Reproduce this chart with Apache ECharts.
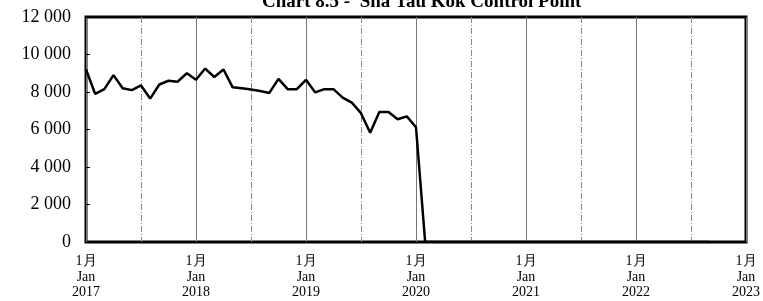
<!DOCTYPE html>
<html>
<head>
<meta charset="utf-8">
<script src="https://cdn.jsdelivr.net/npm/echarts@6/dist/echarts.min.js"></script>
<style>
  html, body { margin: 0; padding: 0; background: #fff; }
  #chart { width: 763px; height: 301px; }
</style>
</head>
<body>
<div id="chart"></div>
<script>
var years = [2017, 2018, 2019, 2020, 2021, 2022, 2023];

// monthly passenger counts, Jan 2017 .. Sep 2022
var passengers = [
  9200, 7900, 8150, 8900, 8200, 8100, 8350, 7650, 8400, 8600, 8550, 9000,
  8650, 9250, 8800, 9200, 8250, 8200, 8130, 8050, 7950, 8700, 8150, 8150,
  8650, 7980, 8150, 8150, 7700, 7430, 6870, 5830, 6930, 6930, 6550, 6700,
  6120, 0, 0, 0, 0, 0, 0, 0, 0, 0, 0, 0,
  0, 0, 0, 0, 0, 0, 0, 0, 0, 0, 0, 0,
  0, 0, 0, 0, 0, 0, 0, 0, 0
];

var yTicks = [0, 2000, 4000, 6000, 8000, 10000, 12000];

// one category per month, Jan 2017 .. Jan 2023
var months = [];
years.forEach(function (y, i) {
  var last = i === years.length - 1 ? 1 : 12;
  for (var m = 1; m <= last; m++) months.push(y + '-' + m);
});

var serif = "'Liberation Serif', 'Times New Roman', serif";

var chart = echarts.init(document.getElementById('chart'));

chart.setOption({
  animation: false,
  title: {
    text: 'Chart 8.5 -  Sha Tau Kok Control Point',
    left: 257,
    top: -12,
    textStyle: { fontFamily: serif, fontSize: 19, fontWeight: 'bold', color: '#000' }
  },
  grid: {
    left: 86, right: 13, top: 17, bottom: 59,
    show: true, borderColor: '#000', borderWidth: 3
  },
  xAxis: [{
    type: 'category',
    data: months,
    boundaryGap: false,
    axisLine: { show: false },
    axisTick: { show: false },
    axisLabel: {
      interval: function (i) { return i % 12 === 0; },
      formatter: function (v) { return '1月\nJan\n' + v.split('-')[0]; },
      fontFamily: serif, fontSize: 14, lineHeight: 15.5, color: '#000', margin: 12
    },
    splitLine: {
      show: true,
      interval: function (i) { return i % 12 === 0; },
      lineStyle: { color: '#777', width: 1 }
    }
  }, {
    type: 'category',
    data: months,
    boundaryGap: false,
    position: 'bottom',
    axisLine: { show: false },
    axisTick: { show: false },
    axisLabel: { show: false },
    splitLine: {
      show: true,
      interval: function (i) { return i % 12 === 6; },
      lineStyle: { color: '#888', width: 1, type: [6, 2, 1, 2] }
    }
  }],
  yAxis: {
    type: 'value',
    min: yTicks[0],
    max: yTicks[yTicks.length - 1],
    interval: 2000,
    axisLine: { show: false },
    axisTick: { show: true, inside: true, length: 4, lineStyle: { color: '#000' } },
    splitLine: { show: false },
    axisLabel: {
      fontFamily: serif, fontSize: 18, color: '#000', margin: 15,
      formatter: function (v) { return String(v).replace(/\B(?=(\d{3})+(?!\d))/g, ' '); }
    }
  },
  series: [{
    type: 'line',
    data: passengers,
    showSymbol: false,
    lineStyle: { color: '#000', width: 2.5 },
    z: 5
  }]
});
</script>
</body>
</html>
